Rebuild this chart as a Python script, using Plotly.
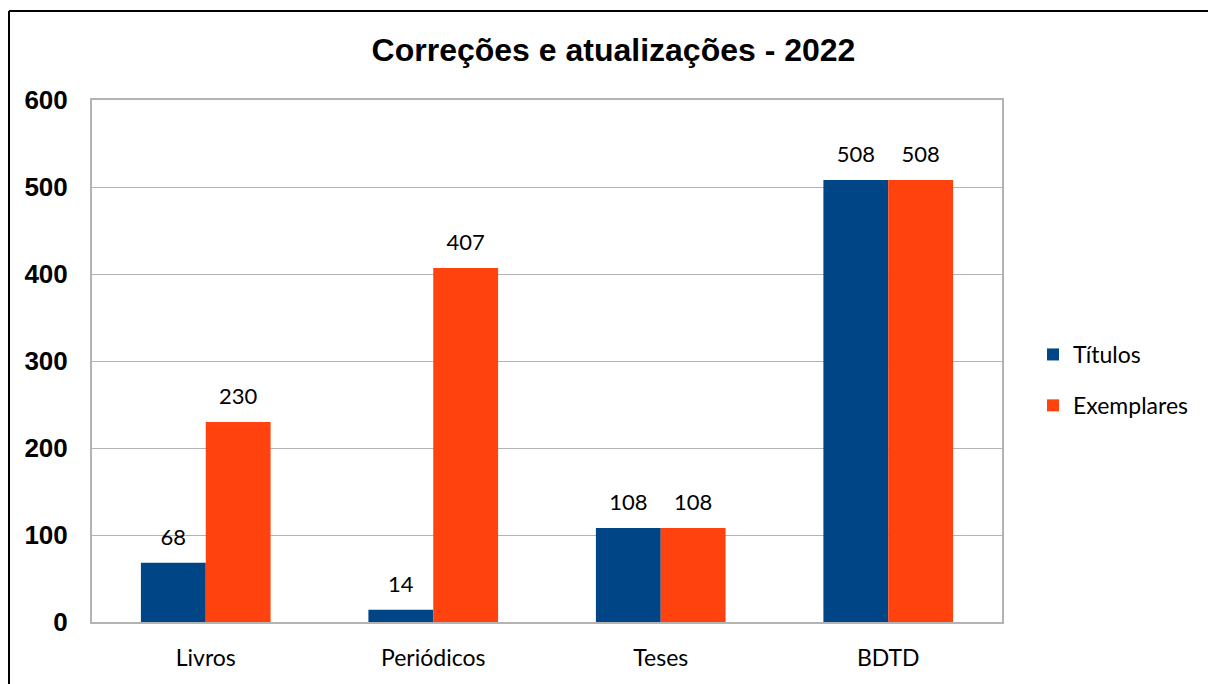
import plotly.graph_objects as go

categories = ["Livros", "Periódicos", "Teses", "BDTD"]
titulos = [68, 14, 108, 508]
exemplares = [230, 407, 108, 508]
series_names = ["Títulos", "Exemplares"]
colors = ["#004586", "#ff420e"]

label_font = "Lato, 'Open Sans', sans-serif"
bold_font = "'Liberation Sans', Arial, sans-serif"

fig = go.Figure()
for name, vals, col, grp in zip(series_names, [titulos, exemplares], colors, ["a", "b"]):
    fig.add_trace(go.Bar(
        x=categories, y=vals, name=name, marker_color=col, marker_line_width=0,
        legendgroup=grp, hoverinfo="skip",
    ))
for name, vals, grp in zip(series_names, [titulos, exemplares], ["a", "b"]):
    fig.add_trace(go.Scatter(
        x=categories, y=vals, mode="markers+text", text=[str(v) for v in vals],
        textposition="top center", textfont=dict(family=label_font, size=22, color="#000"),
        marker=dict(size=18, opacity=0), showlegend=False, legendgroup=grp,
        hoverinfo="skip", cliponaxis=False,
    ))

W, H = 1208, 684
L, R, T, B = 92, 206, 100, 62
pw, ph = W - L - R, H - T - B

def px_x(p):
    return (p - L) / pw

def px_y(p):
    return (H - B - p) / ph

fig.update_layout(
    width=W, height=H,
    margin=dict(l=L, r=R, t=T, b=B),
    paper_bgcolor="white", plot_bgcolor="white",
    barmode="group", bargap=0.43, bargroupgap=0,
    scattermode="group", scattergap=0.43,
    title=dict(text="<b>Correções e atualizações - 2022</b>", x=613.5 / W, xref="container",
               y=1 - 50 / H, yref="container", xanchor="center", yanchor="middle",
               font=dict(family=bold_font, size=32, color="#000")),
    legend=dict(x=px_x(1033), y=px_y(380), xanchor="left", yanchor="middle",
                font=dict(family=label_font, size=23, color="#000"),
                tracegroupgap=18, traceorder="grouped", bgcolor="rgba(0,0,0,0)"),
    showlegend=True,
)
fig.update_xaxes(
    type="category", showline=True, linecolor="#b3b3b3", linewidth=2, mirror=True,
    ticks="outside", ticklen=14, tickcolor="rgba(0,0,0,0)",
    tickfont=dict(family=label_font, size=23, color="#000"), showgrid=False,
)
fig.update_yaxes(
    range=[0, 600], dtick=100, showline=True, linecolor="#b3b3b3", linewidth=2, mirror=True,
    gridcolor="#b3b3b3", gridwidth=1, zeroline=False,
    ticks="outside", ticklen=17, tickcolor="rgba(0,0,0,0)",
    tickfont=dict(family=bold_font, size=26, color="#000"), tickprefix="<b>", ticksuffix="</b>",
)
# outer frame: top and left edges (right/bottom lie outside the picture)
fig.add_shape(type="line", xref="paper", yref="paper",
              x0=px_x(9), x1=px_x(1300), y0=px_y(11), y1=px_y(11),
              line=dict(color="#000", width=2), layer="above")
fig.add_shape(type="line", xref="paper", yref="paper",
              x0=px_x(9), x1=px_x(9), y0=px_y(11), y1=px_y(720),
              line=dict(color="#000", width=2), layer="above")

fig.write_html("out.html", config={"displayModeBar": False},
               post_script=("document.documentElement.style.overflow='hidden';"
                            "document.body.style.margin='0';document.body.style.overflow='hidden';"))
